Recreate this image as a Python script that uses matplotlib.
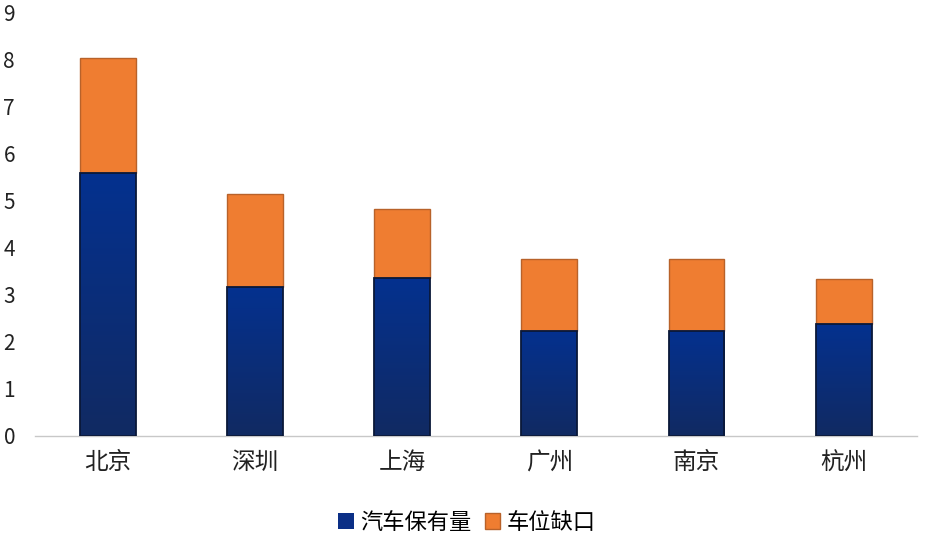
import matplotlib
matplotlib.use('Agg')
import matplotlib.pyplot as plt
import numpy as np
from matplotlib.colors import LinearSegmentedColormap

plt.rcParams['font.family'] = ['Noto Sans CJK SC', 'DejaVu Sans']

cities = ['北京', '深圳', '上海', '广州', '南京', '杭州']
cars = [5.58, 3.17, 3.36, 2.24, 2.24, 2.38]
gap = [2.44, 1.96, 1.47, 1.52, 1.52, 0.95]

fig = plt.figure(figsize=(9.34, 5.54), dpi=100)
ax = fig.add_axes([0.037, 0.213, 0.945, 0.765])

x = np.arange(len(cities))
w = 0.38
b1 = ax.bar(x, cars, w, color='#0b2f86', linewidth=0,
            label='汽车保有量', zorder=2)
b2 = ax.bar(x, gap, w, bottom=cars, color='#ef7d31', edgecolor='#b8622a',
            linewidth=1.0, label='车位缺口', zorder=2)

# vertical gradient on the blue bars
cmap = LinearSegmentedColormap.from_list('g', ['#112a62', '#04318f'])
grad = np.linspace(0, 1, 256).reshape(-1, 1)
for p in b1.patches:
    x0, y0 = p.get_x(), p.get_y()
    im = ax.imshow(grad, cmap=cmap, origin='lower', aspect='auto',
                   extent=[x0, x0 + p.get_width(), y0, y0 + p.get_height()],
                   zorder=2.5)
    im.set_clip_path(p)
# dark outline on top of the gradient
ax.bar(x, cars, w, fill=False, edgecolor='#0a1838', linewidth=1.3, zorder=3)

ax.set_xlim(-0.5, len(cities) - 0.5)
ax.set_ylim(0, 9)
ax.set_yticks(range(10))
ax.set_xticks(x)
ax.set_xticklabels(cities, fontsize=17)
ax.tick_params(axis='y', labelsize=15, length=0, pad=14, colors='#222222')
ax.tick_params(axis='x', length=0, pad=11, colors='#222222')

for s in ['top', 'right', 'left']:
    ax.spines[s].set_visible(False)
ax.spines['bottom'].set_color('#c8c8c8')
ax.spines['bottom'].set_linewidth(1.0)

fig.legend(handles=[b1, b2], loc='center', bbox_to_anchor=(0.5, 0.057), ncol=2,
           frameon=False, fontsize=16, handlelength=0.7, handleheight=0.7,
           handletextpad=0.3, columnspacing=0.6)

fig.savefig('out.png', dpi=100, facecolor='white')
